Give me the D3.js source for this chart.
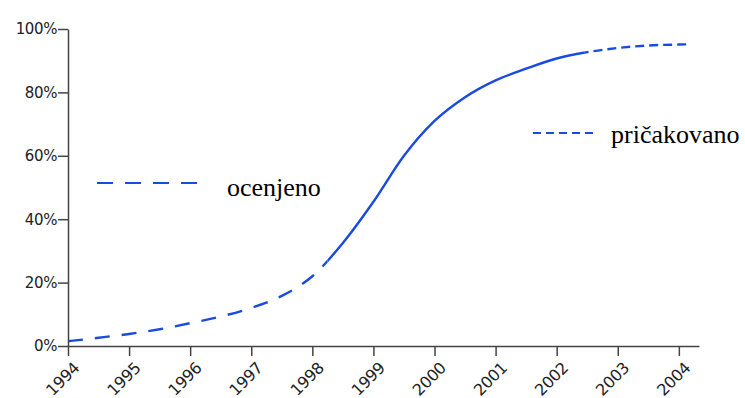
<!DOCTYPE html>
<html>
<head>
<meta charset="utf-8">
<script src="https://cdn.jsdelivr.net/npm/d3@7"></script>
<style>
  body { margin: 0; background: #fff; }
  .axis text { font-family: "DejaVu Sans", sans-serif; font-size: 15px; fill: #222; letter-spacing: -0.4px; }
  .axis path, .axis line { stroke: #444; stroke-width: 1.5; }
  .xaxis text { font-size: 16px; }
</style>
</head>
<body>
<div id="chart"></div>
<script>
// share of households
var years = [1994, 1994.5, 1995, 1995.5, 1996, 1996.5, 1997, 1997.5, 1998, 1998.5, 1999, 1999.5,
             2000, 2000.5, 2001, 2001.5, 2002, 2002.5, 2003, 2003.5, 2004, 2004.2];
var share = [1.5, 2.6, 3.8, 5.3, 7.2, 9.3, 12, 15.8, 22, 32.5, 45.5, 60,
             71, 78.5, 83.8, 87.5, 90.7, 92.7, 94, 94.8, 95.1, 95.2];
var tickYears = [1994, 1995, 1996, 1997, 1998, 1999, 2000, 2001, 2002, 2003, 2004];
var tickPct = [0, 20, 40, 60, 80, 100];
var estimatedEnd = 1998.25;   // ocenjeno up to here
var expectedStart = 2002.45;  // pričakovano from here
var labels = { estimated: "ocenjeno", expected: "pričakovano" };

var width = 745, height = 398;
var blue = "#1a4ade";

var svg = d3.select("#chart")
  .append("svg")
    .attr("width", width)
    .attr("height", height);

var x = d3.scaleLinear()
  .domain([1994, 2004.33])
  .range([68, 699]);

var y = d3.scaleLinear()
  .domain([0, 100])
  .range([346, 29]);

var data = years.map(function(d, i) { return { year: d, v: share[i] }; });

var line = d3.line()
  .x(function(d) { return x(d.year); })
  .y(function(d) { return y(d.v); })
  .curve(d3.curveMonotoneX);

// clip regions for the three parts of the curve
var defs = svg.append("defs");
function clip(id, x0, x1) {
  defs.append("clipPath").attr("id", id)
    .append("rect")
      .attr("x", x0).attr("y", 0)
      .attr("width", x1 - x0).attr("height", height);
}
clip("c1", 0, x(estimatedEnd));
clip("c2", x(estimatedEnd), x(expectedStart));
clip("c3", x(expectedStart), width);

var parts = [
  { clip: "c1", dash: "15,12" },
  { clip: "c2", dash: null },
  { clip: "c3", dash: "9,5" }
];

parts.forEach(function(p) {
  svg.append("path")
    .datum(data)
    .attr("clip-path", "url(#" + p.clip + ")")
    .attr("fill", "none")
    .attr("stroke", blue)
    .attr("stroke-width", 2.4)
    .attr("stroke-dasharray", p.dash)
    .attr("d", line);
});

// axes
svg.append("g")
  .attr("class", "axis")
  .attr("transform", "translate(" + x.range()[0] + ",0)")
  .call(d3.axisLeft(y)
    .tickValues(tickPct)
    .tickSize(10)
    .tickSizeOuter(0)
    .tickPadding(1)
    .tickFormat(function(d) { return d + "%"; }));

svg.append("g")
  .attr("class", "axis xaxis")
  .attr("transform", "translate(0," + y(0) + ")")
  .call(d3.axisBottom(x)
    .tickValues(tickYears)
    .tickSize(10)
    .tickSizeOuter(0)
    .tickFormat(d3.format("d")))
  .selectAll("text")
    .attr("text-anchor", "end")
    .attr("x", 0)
    .attr("y", 0)
    .attr("dy", "0")
    .attr("transform", "translate(12,23) rotate(-45)");

// legends
svg.append("line")
  .attr("x1", 97).attr("x2", 197)
  .attr("y1", 183).attr("y2", 183)
  .attr("stroke", blue).attr("stroke-width", 2)
  .attr("stroke-dasharray", "16,12");

svg.append("text")
  .attr("x", 227).attr("y", 196)
  .attr("font-family", "Liberation Serif, serif")
  .attr("font-size", 26)
  .text(labels.estimated);

svg.append("line")
  .attr("x1", 533).attr("x2", 593)
  .attr("y1", 133).attr("y2", 133)
  .attr("stroke", blue).attr("stroke-width", 2)
  .attr("stroke-dasharray", "8,5");

svg.append("text")
  .attr("x", 611).attr("y", 143)
  .attr("font-family", "Liberation Serif, serif")
  .attr("font-size", 26)
  .text(labels.expected);
</script>
</body>
</html>
